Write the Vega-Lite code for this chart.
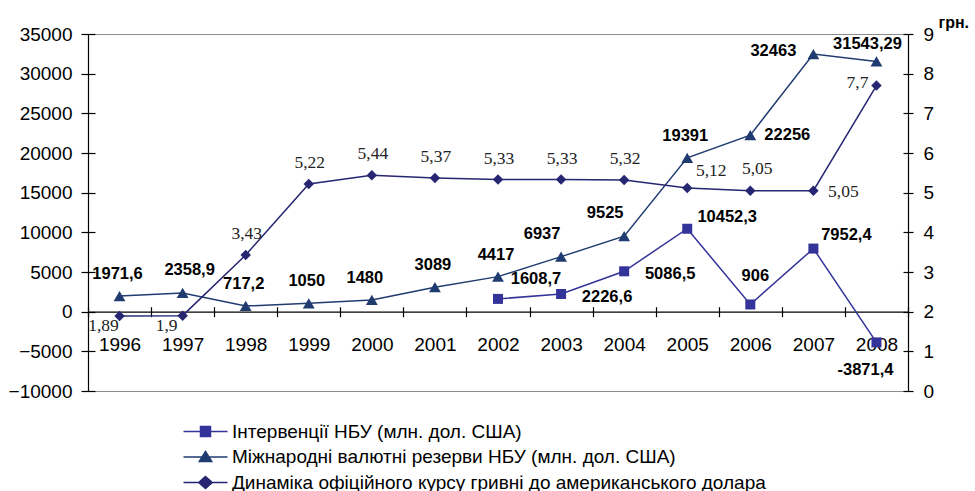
{
  "$schema": "https://vega.github.io/schema/vega-lite/v6.json",
  "width": 820,
  "height": 357,
  "autosize": {"type": "none"},
  "padding": {"left": 88, "top": 34, "right": 67, "bottom": 100},
  "background": "white",
  "config": {
    "view": {"stroke": "#8c8c8c", "strokeWidth": 1},
    "font": "Liberation Sans",
    "axis": {"labelFont": "Liberation Sans", "labelColor": "black", "domainColor": "black", "tickColor": "black", "gridColor": "black", "gridOpacity": 1, "domainWidth": 1.2, "tickWidth": 1.2, "gridWidth": 1.2}
  },
  "data": {"values": [
    {"series": "Інтервенції НБУ (млн. дол. США)", "year": "2002", "value": 1608.7},
    {"series": "Інтервенції НБУ (млн. дол. США)", "year": "2003", "value": 2226.6},
    {"series": "Інтервенції НБУ (млн. дол. США)", "year": "2004", "value": 5086.5},
    {"series": "Інтервенції НБУ (млн. дол. США)", "year": "2005", "value": 10452.3},
    {"series": "Інтервенції НБУ (млн. дол. США)", "year": "2006", "value": 906},
    {"series": "Інтервенції НБУ (млн. дол. США)", "year": "2007", "value": 7952.4},
    {"series": "Інтервенції НБУ (млн. дол. США)", "year": "2008", "value": -3871.4},
    {"series": "Міжнародні валютні резерви НБУ (млн. дол. США)", "year": "1996", "value": 1971.6},
    {"series": "Міжнародні валютні резерви НБУ (млн. дол. США)", "year": "1997", "value": 2358.9},
    {"series": "Міжнародні валютні резерви НБУ (млн. дол. США)", "year": "1998", "value": 717.2},
    {"series": "Міжнародні валютні резерви НБУ (млн. дол. США)", "year": "1999", "value": 1050},
    {"series": "Міжнародні валютні резерви НБУ (млн. дол. США)", "year": "2000", "value": 1480},
    {"series": "Міжнародні валютні резерви НБУ (млн. дол. США)", "year": "2001", "value": 3089},
    {"series": "Міжнародні валютні резерви НБУ (млн. дол. США)", "year": "2002", "value": 4417},
    {"series": "Міжнародні валютні резерви НБУ (млн. дол. США)", "year": "2003", "value": 6937},
    {"series": "Міжнародні валютні резерви НБУ (млн. дол. США)", "year": "2004", "value": 9525},
    {"series": "Міжнародні валютні резерви НБУ (млн. дол. США)", "year": "2005", "value": 19391},
    {"series": "Міжнародні валютні резерви НБУ (млн. дол. США)", "year": "2006", "value": 22256},
    {"series": "Міжнародні валютні резерви НБУ (млн. дол. США)", "year": "2007", "value": 32463},
    {"series": "Міжнародні валютні резерви НБУ (млн. дол. США)", "year": "2008", "value": 31543.29},
    {"series": "Динаміка офіційного курсу гривні до американського долара", "year": "1996", "value": 1.89},
    {"series": "Динаміка офіційного курсу гривні до американського долара", "year": "1997", "value": 1.9},
    {"series": "Динаміка офіційного курсу гривні до американського долара", "year": "1998", "value": 3.43},
    {"series": "Динаміка офіційного курсу гривні до американського долара", "year": "1999", "value": 5.22},
    {"series": "Динаміка офіційного курсу гривні до американського долара", "year": "2000", "value": 5.44},
    {"series": "Динаміка офіційного курсу гривні до американського долара", "year": "2001", "value": 5.37},
    {"series": "Динаміка офіційного курсу гривні до американського долара", "year": "2002", "value": 5.33},
    {"series": "Динаміка офіційного курсу гривні до американського долара", "year": "2003", "value": 5.33},
    {"series": "Динаміка офіційного курсу гривні до американського долара", "year": "2004", "value": 5.32},
    {"series": "Динаміка офіційного курсу гривні до американського долара", "year": "2005", "value": 5.12},
    {"series": "Динаміка офіційного курсу гривні до американського долара", "year": "2006", "value": 5.05},
    {"series": "Динаміка офіційного курсу гривні до американського долара", "year": "2007", "value": 5.05},
    {"series": "Динаміка офіційного курсу гривні до американського долара", "year": "2008", "value": 7.7}
  ]},
  "transform": [{"calculate": "replace(toString(datum.value), '.', ',')", "as": "lbl"}],
  "encoding": {
    "x": {
      "field": "year", "type": "ordinal",
      "scale": {"type": "band", "paddingInner": 0, "paddingOuter": 0},
      "axis": {"orient": "bottom", "offset": -79.33, "tickBand": "extent", "tickSize": 5, "labelPadding": 19, "labelFontSize": 19, "labelAngle": 0, "title": null, "grid": true, "gridDash": [0, 272.67, 5, 2000]}
    }
  },
  "layer": [
    {
      "encoding": {
        "y": {"field": "value", "type": "quantitative",
          "scale": {"domain": [-10000, 35000], "nice": false, "zero": false},
          "axis": {"orient": "left", "values": [-10000, -5000, 0, 5000, 10000, 15000, 20000, 25000, 30000, 35000], "format": "d", "title": null, "labelFontSize": 19, "tickSize": 7, "labelPadding": 9, "grid": true, "gridDash": [7, 2000]}}
      },
      "layer": [
        {"transform": [{"filter": {"field": "series", "equal": "Міжнародні валютні резерви НБУ (млн. дол. США)"}}], "mark": {"type": "line", "color": "#1F3B6F", "strokeWidth": 1.5}, "encoding": {}},
        {"transform": [{"filter": {"field": "series", "equal": "Інтервенції НБУ (млн. дол. США)"}}], "mark": {"type": "line", "color": "#333399", "strokeWidth": 1.5}, "encoding": {}},
        {"transform": [{"filter": {"field": "series", "equal": "Міжнародні валютні резерви НБУ (млн. дол. США)"}}], "mark": {"type": "point", "shape": "triangle-up", "filled": true, "opacity": 1, "size": 140, "color": "#1F3B6F"}},
        {"transform": [{"filter": {"field": "series", "equal": "Інтервенції НБУ (млн. дол. США)"}}], "mark": {"type": "point", "shape": "square", "filled": true, "opacity": 1, "size": 100, "color": "#333399"}},
        {"transform": [{"filter": {"field": "series", "equal": "Міжнародні валютні резерви НБУ (млн. дол. США)"}}, {"filter": {"field": "year", "oneOf": ["1996", "1998", "1999", "2001", "2002", "2005"]}}], "mark": {"type": "text", "fontWeight": "bold", "fontSize": 16.5, "color": "black", "dx": -2, "dy": -22}, "encoding": {"text": {"field": "lbl"}}},
        {"transform": [{"filter": {"field": "series", "equal": "Міжнародні валютні резерви НБУ (млн. дол. США)"}}, {"filter": {"field": "year", "oneOf": ["1997"]}}], "mark": {"type": "text", "fontWeight": "bold", "fontSize": 16.5, "color": "black", "dx": 7, "dy": -23}, "encoding": {"text": {"field": "lbl"}}},
        {"transform": [{"filter": {"field": "series", "equal": "Міжнародні валютні резерви НБУ (млн. дол. США)"}}, {"filter": {"field": "year", "oneOf": ["2000"]}}], "mark": {"type": "text", "fontWeight": "bold", "fontSize": 16.5, "color": "black", "dx": -7, "dy": -22}, "encoding": {"text": {"field": "lbl"}}},
        {"transform": [{"filter": {"field": "series", "equal": "Міжнародні валютні резерви НБУ (млн. дол. США)"}}, {"filter": {"field": "year", "oneOf": ["2003", "2004"]}}], "mark": {"type": "text", "fontWeight": "bold", "fontSize": 16.5, "color": "black", "dx": -19, "dy": -23}, "encoding": {"text": {"field": "lbl"}}},
        {"transform": [{"filter": {"field": "series", "equal": "Міжнародні валютні резерви НБУ (млн. дол. США)"}}, {"filter": {"field": "year", "oneOf": ["2006"]}}], "mark": {"type": "text", "fontWeight": "bold", "fontSize": 16.5, "color": "black", "dx": 37, "dy": 0}, "encoding": {"text": {"field": "lbl"}}},
        {"transform": [{"filter": {"field": "series", "equal": "Міжнародні валютні резерви НБУ (млн. дол. США)"}}, {"filter": {"field": "year", "oneOf": ["2007"]}}], "mark": {"type": "text", "fontWeight": "bold", "fontSize": 16.5, "color": "black", "dx": -40, "dy": -3}, "encoding": {"text": {"field": "lbl"}}},
        {"transform": [{"filter": {"field": "series", "equal": "Міжнародні валютні резерви НБУ (млн. дол. США)"}}, {"filter": {"field": "year", "oneOf": ["2008"]}}], "mark": {"type": "text", "fontWeight": "bold", "fontSize": 16.5, "color": "black", "dx": -9, "dy": -17}, "encoding": {"text": {"field": "lbl"}}},
        {"transform": [{"filter": {"field": "series", "equal": "Інтервенції НБУ (млн. дол. США)"}}, {"filter": {"field": "year", "oneOf": ["2002"]}}], "mark": {"type": "text", "fontWeight": "bold", "fontSize": 16.5, "color": "black", "dx": 38, "dy": -20}, "encoding": {"text": {"field": "lbl"}}},
        {"transform": [{"filter": {"field": "series", "equal": "Інтервенції НБУ (млн. дол. США)"}}, {"filter": {"field": "year", "oneOf": ["2003", "2004"]}}], "mark": {"type": "text", "fontWeight": "bold", "fontSize": 16.5, "color": "black", "dx": 46, "dy": 3}, "encoding": {"text": {"field": "lbl"}}},
        {"transform": [{"filter": {"field": "series", "equal": "Інтервенції НБУ (млн. дол. США)"}}, {"filter": {"field": "year", "oneOf": ["2005"]}}], "mark": {"type": "text", "fontWeight": "bold", "fontSize": 16.5, "color": "black", "dx": 40, "dy": -12}, "encoding": {"text": {"field": "lbl"}}},
        {"transform": [{"filter": {"field": "series", "equal": "Інтервенції НБУ (млн. дол. США)"}}, {"filter": {"field": "year", "oneOf": ["2006"]}}], "mark": {"type": "text", "fontWeight": "bold", "fontSize": 16.5, "color": "black", "dx": 5, "dy": -28}, "encoding": {"text": {"field": "lbl"}}},
        {"transform": [{"filter": {"field": "series", "equal": "Інтервенції НБУ (млн. дол. США)"}}, {"filter": {"field": "year", "oneOf": ["2007"]}}], "mark": {"type": "text", "fontWeight": "bold", "fontSize": 16.5, "color": "black", "dx": 33, "dy": -14}, "encoding": {"text": {"field": "lbl"}}},
        {"transform": [{"filter": {"field": "series", "equal": "Інтервенції НБУ (млн. дол. США)"}}, {"filter": {"field": "year", "oneOf": ["2008"]}}], "mark": {"type": "text", "fontWeight": "bold", "fontSize": 16.5, "color": "black", "dx": -11, "dy": 28}, "encoding": {"text": {"field": "lbl"}}}
      ]
    },
    {
      "encoding": {
        "y": {"field": "value", "type": "quantitative",
          "scale": {"domain": [0, 9], "nice": false, "zero": false},
          "axis": {"orient": "right", "values": [0, 1, 2, 3, 4, 5, 6, 7, 8, 9], "format": "d", "title": "грн.", "titleAngle": 0, "titleFontSize": 16, "titleFontWeight": "bold", "titleFont": "Liberation Sans", "titleColor": "black", "titleAlign": "left", "titleBaseline": "alphabetic", "titleX": 30, "titleY": -7, "labelFontSize": 19, "tickSize": 5, "labelPadding": 10, "grid": true, "gridDash": [5, 2000]}}
      },
      "layer": [
        {"transform": [{"filter": {"field": "series", "equal": "Динаміка офіційного курсу гривні до американського долара"}}], "mark": {"type": "line", "color": "#262673", "strokeWidth": 1.5}, "encoding": {}},
        {"transform": [{"filter": {"field": "series", "equal": "Динаміка офіційного курсу гривні до американського долара"}}], "mark": {"type": "point", "shape": "diamond", "filled": true, "opacity": 1, "size": 110, "color": "#262673"}},
        {"transform": [{"filter": {"field": "series", "equal": "Динаміка офіційного курсу гривні до американського долара"}}, {"filter": {"field": "year", "oneOf": ["1996", "1997"]}}], "mark": {"type": "text", "font": "Liberation Serif", "fontSize": 17.5, "color": "#222222", "dx": -16, "dy": 10}, "encoding": {"text": {"field": "lbl"}}},
        {"transform": [{"filter": {"field": "series", "equal": "Динаміка офіційного курсу гривні до американського долара"}}, {"filter": {"field": "year", "oneOf": ["1998", "1999", "2000", "2001", "2002", "2003", "2004"]}}], "mark": {"type": "text", "font": "Liberation Serif", "fontSize": 17.5, "color": "#222222", "dx": 1, "dy": -21}, "encoding": {"text": {"field": "lbl"}}},
        {"transform": [{"filter": {"field": "series", "equal": "Динаміка офіційного курсу гривні до американського долара"}}, {"filter": {"field": "year", "oneOf": ["2005"]}}], "mark": {"type": "text", "font": "Liberation Serif", "fontSize": 17.5, "color": "#222222", "dx": 24, "dy": -17}, "encoding": {"text": {"field": "lbl"}}},
        {"transform": [{"filter": {"field": "series", "equal": "Динаміка офіційного курсу гривні до американського долара"}}, {"filter": {"field": "year", "oneOf": ["2006"]}}], "mark": {"type": "text", "font": "Liberation Serif", "fontSize": 17.5, "color": "#222222", "dx": 7, "dy": -22}, "encoding": {"text": {"field": "lbl"}}},
        {"transform": [{"filter": {"field": "series", "equal": "Динаміка офіційного курсу гривні до американського долара"}}, {"filter": {"field": "year", "oneOf": ["2007"]}}], "mark": {"type": "text", "font": "Liberation Serif", "fontSize": 17.5, "color": "#222222", "dx": 30, "dy": 1}, "encoding": {"text": {"field": "lbl"}}},
        {"transform": [{"filter": {"field": "series", "equal": "Динаміка офіційного курсу гривні до американського долара"}}, {"filter": {"field": "year", "oneOf": ["2008"]}}], "mark": {"type": "text", "font": "Liberation Serif", "fontSize": 17.5, "color": "#222222", "dx": -19, "dy": -3}, "encoding": {"text": {"field": "lbl"}}}
      ]
    },
    {
      "transform": [{"filter": "false"}],
      "mark": {"type": "point", "filled": true, "opacity": 1},
      "encoding": {
        "shape": {"field": "series", "type": "nominal",
          "scale": {"domain": ["Інтервенції НБУ (млн. дол. США)", "Міжнародні валютні резерви НБУ (млн. дол. США)", "Динаміка офіційного курсу гривні до американського долара"],
            "range": ["M-4.4,0H4.4M-1,-1H1V1H-1Z", "M-4.4,0H4.4M0,-1.1L1.25,0.9L-1.25,0.9Z", "M-4.4,0H4.4M0,-1.2L1.35,0L0,1.2L-1.35,0Z"]},
          "legend": {"title": null, "orient": "none", "legendX": 108, "legendY": 388, "direction": "vertical", "symbolSize": 100, "symbolStrokeWidth": 1.5, "labelFontSize": 19, "labelFont": "Liberation Sans", "labelColor": "black", "labelOffset": 17, "rowPadding": 5.5, "padding": 0, "labelLimit": 1000}},
        "fill": {"field": "series", "type": "nominal",
          "scale": {"domain": ["Інтервенції НБУ (млн. дол. США)", "Міжнародні валютні резерви НБУ (млн. дол. США)", "Динаміка офіційного курсу гривні до американського долара"], "range": ["#333399", "#1F3B6F", "#262673"]},
          "legend": {"title": null, "orient": "none", "legendX": 108, "legendY": 388, "direction": "vertical", "symbolSize": 100, "symbolStrokeWidth": 1.5, "labelFontSize": 19, "labelFont": "Liberation Sans", "labelColor": "black", "labelOffset": 17, "rowPadding": 5.5, "padding": 0, "labelLimit": 1000}},
        "stroke": {"field": "series", "type": "nominal",
          "scale": {"domain": ["Інтервенції НБУ (млн. дол. США)", "Міжнародні валютні резерви НБУ (млн. дол. США)", "Динаміка офіційного курсу гривні до американського долара"], "range": ["#333399", "#1F3B6F", "#262673"]},
          "legend": {"title": null, "orient": "none", "legendX": 108, "legendY": 388, "direction": "vertical", "symbolSize": 100, "symbolStrokeWidth": 1.5, "labelFontSize": 19, "labelFont": "Liberation Sans", "labelColor": "black", "labelOffset": 17, "rowPadding": 5.5, "padding": 0, "labelLimit": 1000}}
      }
    }
  ],
  "resolve": {"scale": {"y": "independent"}}
}
